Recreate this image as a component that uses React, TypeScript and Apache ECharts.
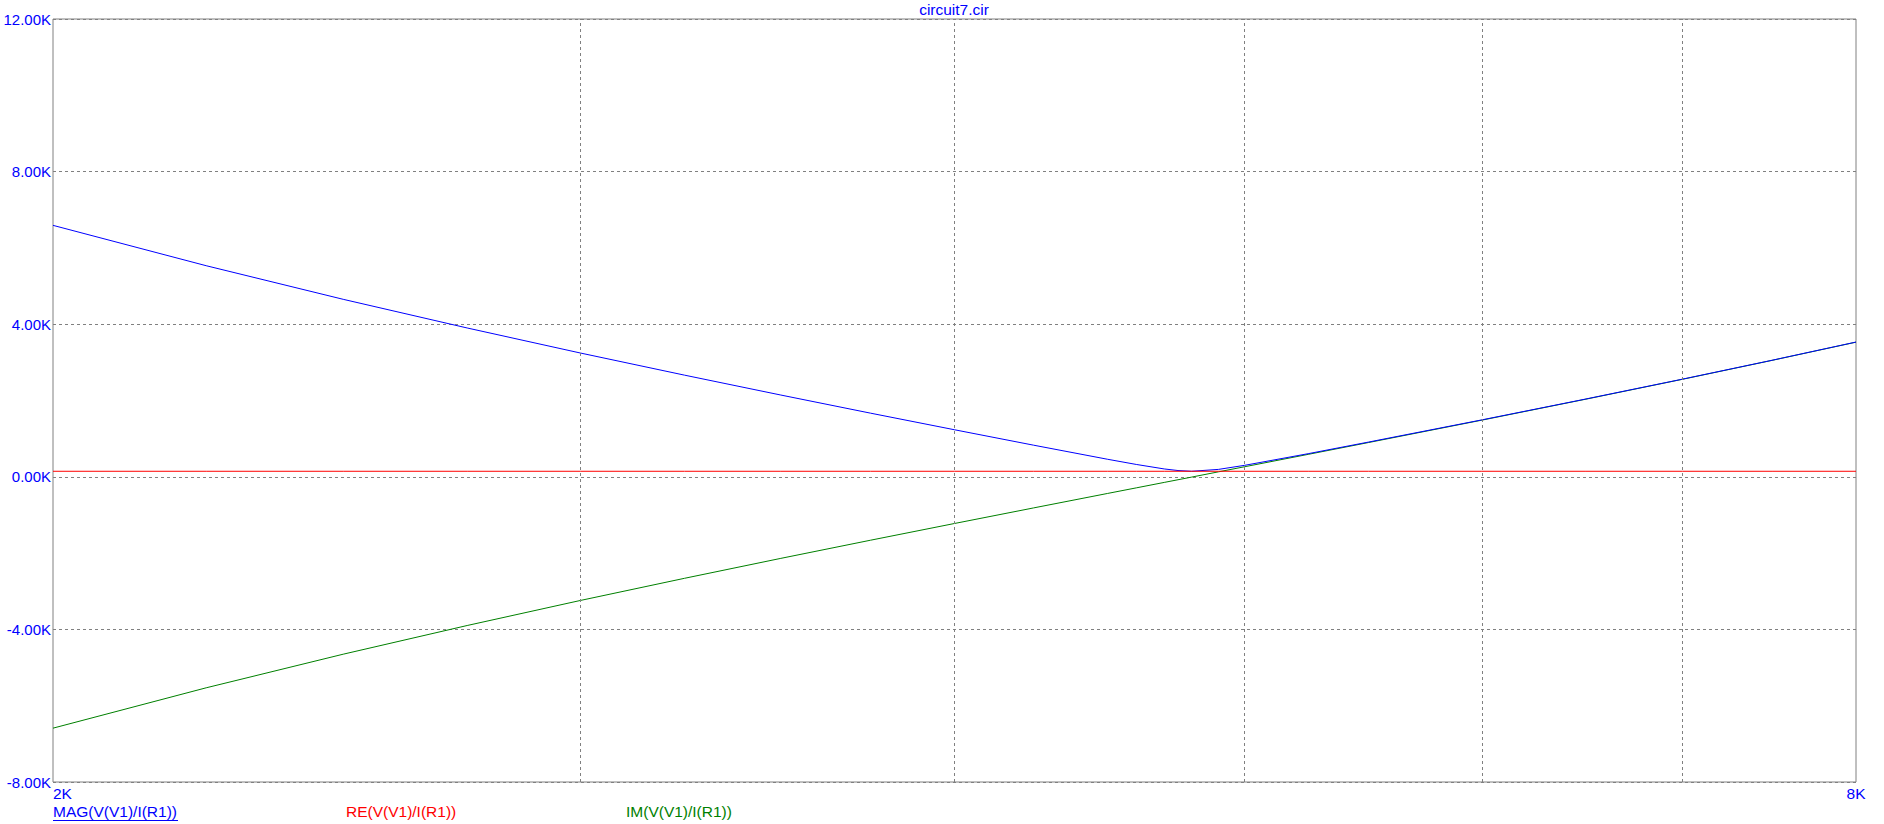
import React, { useEffect, useRef } from "react";
import * as echarts from "echarts";

const TITLE = "circuit7.cir";
const FREQ = [2000, 2250, 2500, 2750, 3000, 3250, 3500, 3750, 4000, 4250, 4500, 4600, 4700, 4750, 4800, 4900, 5000, 5250, 5500, 6000, 6500, 7000, 7500, 8000];
const MAG = [6591, 5533, 4652, 3901, 3245, 2665, 2143, 1668, 1233, 830, 459, 324, 206, 164, 145, 194, 301, 606, 911, 1492, 2040, 2559, 3055, 3532];
const RE = [145, 145, 145, 145, 145, 145, 145, 145, 145, 145, 145, 145, 145, 145, 145, 145, 145, 145, 145, 145, 145, 145, 145, 145];
const IM = [-6589, -5531, -4650, -3898, -3242, -2661, -2138, -1662, -1224, -817, -436, -290, -147, -77, -8, 130, 264, 588, 899, 1485, 2035, 2555, 3052, 3529];
const X_GRID = [3000, 4000, 5000, 6000, 7000];
const SERIES_NAMES = ["MAG(V(V1)/I(R1))", "RE(V(V1)/I(R1))", "IM(V(V1)/I(R1))"];
const SERIES_COLORS = ["#0000ff", "#ff0000", "#008000"];

const FONT = "'Liberation Sans', Arial, sans-serif";

export default function App() {
  const ref = useRef<HTMLDivElement>(null);
  useEffect(() => {
    if (!ref.current) return;
    const chart = echarts.init(ref.current, undefined, { renderer: "svg" });
    const zip = (ys: number[]) => FREQ.map((f, i) => [f, ys[i]]);
    const lineSeries = (name: string, ys: number[], color: string, extra: any = {}) => ({
      name,
      type: "line",
      data: zip(ys),
      showSymbol: false,
      symbol: "none",
      lineStyle: { color, width: 1 },
      itemStyle: { color },
      silent: true,
      ...extra,
    });
    const legendX = [53, 346, 626];
    const option: any = {
      animation: false,
      backgroundColor: "#ffffff",
      title: {
        text: TITLE,
        left: 954,
        top: 1,
        padding: 0,
        textAlign: "center",
        textStyle: { color: "#0000ff", fontSize: 15.5, fontWeight: "normal", fontFamily: FONT },
      },
      grid: {
        left: 53,
        right: 28,
        top: 19,
        bottom: 42,
        containLabel: false,
        outerBoundsMode: "none",
        show: true,
        borderColor: "#808080",
        borderWidth: 1,
        backgroundColor: "transparent",
      },
      xAxis: {
        type: "log",
        logBase: 10,
        min: 2000,
        max: 8000,
        axisLine: { show: false },
        axisTick: { show: false },
        splitLine: { show: false },
        axisLabel: {
          color: "#0000ff",
          fontSize: 15.5,
          fontFamily: FONT,
          margin: 3,
          showMinLabel: true,
          showMaxLabel: true,
          alignMinLabel: "left",
          alignMaxLabel: "center",
          formatter: (v: number) =>
            Math.abs(v - 2000) < 1 ? "2K" : Math.abs(v - 8000) < 1 ? "8K" : "",
        },
      },
      yAxis: {
        type: "value",
        min: -8000,
        max: 12000,
        interval: 4000,
        axisLine: { show: false },
        axisTick: { show: false },
        splitLine: { show: true, lineStyle: { color: "#808080", type: [3, 3], width: 1 } },
        axisLabel: {
          color: "#0000ff",
          fontSize: 15,
          fontFamily: FONT,
          margin: 2,
          formatter: (v: number) => (v / 1000).toFixed(2) + "K",
        },
      },
      series: [
        lineSeries(SERIES_NAMES[2], IM, SERIES_COLORS[2], {
          markLine: {
            silent: true,
            symbol: ["none", "none"],
            label: { show: false },
            lineStyle: { color: "#808080", type: [3, 3], width: 1 },
            data: X_GRID.map((x) => ({ xAxis: x })),
          },
        }),
        lineSeries(SERIES_NAMES[0], MAG, SERIES_COLORS[0]),
        lineSeries(SERIES_NAMES[1], RE, SERIES_COLORS[1]),
      ],
      graphic: [
        ...SERIES_NAMES.map((n, i) => ({
          type: "text",
          left: legendX[i],
          top: 803,
          style: { text: n, fill: SERIES_COLORS[i], fontSize: 15.5, fontFamily: FONT },
        })),
        {
          type: "line",
          shape: { x1: 53, y1: 820.5, x2: 178, y2: 820.5 },
          style: { stroke: "#0000ff", lineWidth: 1 },
        },
      ],
    };
    chart.setOption(option);
    return () => chart.dispose();
  }, []);
  return (
    <div
      ref={ref}
      style={{ position: "fixed", left: 0, top: 0, width: "1884px", height: "824px" }}
    />
  );
}
